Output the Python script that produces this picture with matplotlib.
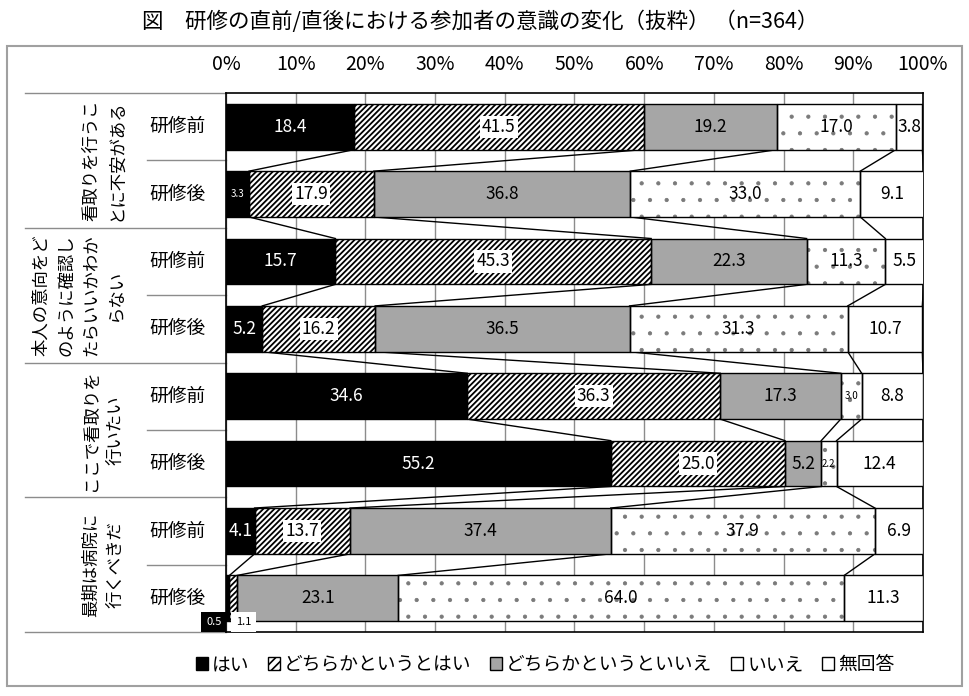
import numpy as np
import matplotlib
matplotlib.use("Agg")
import matplotlib.pyplot as plt
from matplotlib.patches import Patch, Rectangle
from matplotlib.transforms import blended_transform_factory

plt.rcParams['font.family'] = ['Noto Sans CJK JP', 'DejaVu Sans']

title = "図　研修の直前/直後における参加者の意識の変化（抜粋） （n=364）"
groups = ["看取りを行うこ\nとに不安がある",
          "本人の意向をど\nのように確認し\nたらいいかわか\nらない",
          "ここで看取りを\n行いたい",
          "最期は病院に\n行くべきだ"]
phases = ["研修前", "研修後"]
series_names = ["はい", "どちらかというとはい", "どちらかというといいえ", "いいえ", "無回答"]

# one value per row: 前, 後 for each group
hai = [18.4, 3.3, 15.7, 5.2, 34.6, 55.2, 4.1, 0.5]
yaya_hai = [41.5, 17.9, 45.3, 16.2, 36.3, 25.0, 13.7, 1.1]
yaya_iie = [19.2, 36.8, 22.3, 36.5, 17.3, 5.2, 37.4, 23.1]
iie = [17.0, 33.0, 11.3, 31.3, 3.0, 2.2, 37.9, 64.0]
mukaito = [3.8, 9.1, 5.5, 10.7, 8.8, 12.4, 6.9, 11.3]

faces = ['black', 'white', '#a6a6a6', 'white', 'white']
hatches = [None, '//////', None, '.', None]
hatch_colors = ['black', 'black', 'black', '#7a7a7a', 'black']
hatch_lws = [1.0, 1.3, 1.0, 0.6, 1.0]
text_colors = ['white', 'black', 'black', 'black', 'black']
label_boxes = [False, True, False, False, False]
tiny_offsets = [(-14, -24), (10, -24)]   # pixel offsets for labels too small to fit

fig = plt.figure(figsize=(9.7, 6.96), dpi=100)
ax = fig.add_axes([226 / 970, 1 - 632 / 696, 697 / 970, 539 / 696])

data = np.array([hai, yaya_hai, yaya_iie, iie, mukaito])
n_rows = data.shape[1]
rows = np.arange(n_rows)
ends = np.cumsum(data, axis=0)
lefts = ends - data
bar_h = 0.68

for k in range(len(series_names)):
    plt.rcParams['hatch.linewidth'] = hatch_lws[k]
    # fill + hatch first, then a clean black outline on top
    fill = ax.barh(rows, data[k], left=lefts[k], height=bar_h, color=faces[k],
                   hatch=hatches[k], edgecolor=hatch_colors[k], linewidth=0, zorder=3)
    for p in fill:
        if hasattr(p, 'set_hatch_linewidth'):
            p.set_hatch_linewidth(hatch_lws[k])
    ax.barh(rows, data[k], left=lefts[k], height=bar_h, fill=False,
            edgecolor='black', linewidth=1, zorder=3.5)
    for i in rows:
        v = data[k, i]
        cx = lefts[k, i] + v / 2
        if v < 2:
            dx, dy = tiny_offsets[k]
            bg = 'black' if k == 0 else 'white'
            ax.annotate(f"{v:.1f}", (cx, i), xytext=(dx, dy), textcoords='offset pixels',
                        ha='center', va='center', fontsize=8, color=text_colors[k],
                        bbox=dict(facecolor=bg, edgecolor='none', pad=3.5), zorder=6,
                        annotation_clip=False)
            continue
        fs = 7 if v < 3.5 else 12.5
        box = dict(facecolor='white', edgecolor='none', pad=1.5) if label_boxes[k] else None
        ax.text(cx, i, f"{v:.1f}", ha='center', va='center', fontsize=fs,
                color=text_colors[k], bbox=box, zorder=5)

# series lines between neighbouring bars
for i in range(n_rows - 1):
    for k in range(len(series_names)):
        ax.plot([ends[k, i], ends[k, i + 1]], [i + bar_h / 2, i + 1 - bar_h / 2],
                color='black', lw=1, zorder=2)

ax.set_xlim(0, 100)
ax.set_ylim(n_rows - 0.5, -0.5)
ax.set_xticks(range(0, 101, 10))
ax.set_xticklabels([f"{t}%" for t in range(0, 101, 10)])
ax.xaxis.tick_top()
ax.tick_params(axis='x', length=0, pad=13, labelsize=14)
ax.set_yticks([])
ax.grid(axis='x', color='#8c8c8c', lw=1, zorder=0)
ax.set_axisbelow(True)
for s in ax.spines.values():
    s.set_color('black')
    s.set_linewidth(1.2)

# left hand category table
tr = blended_transform_factory(ax.transAxes, ax.transData)
for j in range(len(groups) + 1):
    yb = 2 * j - 0.5
    ax.plot([-0.288, 0], [yb, yb], color='#8c8c8c', lw=1, transform=tr, clip_on=False)
for j in range(len(groups)):
    yb = 2 * j + 0.5
    ax.plot([-0.113, 0], [yb, yb], color='#8c8c8c', lw=1, transform=tr, clip_on=False)
    ax.text(-0.145, 2 * j + 0.5, groups[j], rotation=90, ha='right', va='center',
            multialignment='center', fontsize=12.5, linespacing=1.5,
            transform=tr)
for i in rows:
    ax.text(-0.07, i, phases[i % 2], ha='center', va='center', fontsize=13.5, transform=tr)

fig.text(0.495, 0.968, title, ha='center', va='center', fontsize=15.5)

plt.rcParams['hatch.linewidth'] = 1.2
handles = [Patch(facecolor=faces[k], hatch=('////' if k == 1 else None),
                 edgecolor='black', linewidth=1)
           for k in range(len(series_names))]
fig.legend(handles, series_names, loc='center', bbox_to_anchor=(0.562, 0.045), ncol=5,
           frameon=False, fontsize=13.5, handlelength=0.65, handleheight=0.65,
           handletextpad=0.2, columnspacing=1.0)

fig.patches.append(Rectangle((7 / 970, 1 - 686 / 696), 955 / 970, 640 / 696,
                             transform=fig.transFigure, fill=False,
                             edgecolor='#a0a0a0', lw=1.5))

fig.savefig('out.png', dpi=100)
